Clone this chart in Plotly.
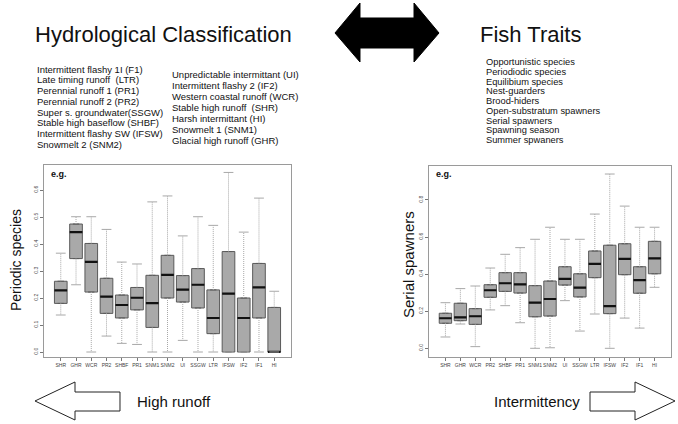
import plotly.graph_objects as go

W, H = 678, 424

categories = ["SHR", "GHR", "WCR", "PR2", "SHBF", "PR1", "SNM1", "SNM2",
              "UI", "SSGW", "LTR", "IFSW", "IF2", "IF1", "HI"]

# Left panel: Periodic species
per_low = [0.137, 0.249, 0.0, 0.059, 0.032, 0.028, 0.0, 0.0, 0.043, 0.0, 0.0, 0.0, 0.0, 0.0, 0.0]
per_q1 = [0.180, 0.346, 0.222, 0.143, 0.126, 0.156, 0.091, 0.200, 0.185, 0.163, 0.068, 0.0, 0.0, 0.126, 0.0]
per_med = [0.228, 0.444, 0.334, 0.205, 0.174, 0.201, 0.181, 0.286, 0.231, 0.249, 0.126, 0.216, 0.126, 0.239, 0.0]
per_q3 = [0.262, 0.474, 0.402, 0.273, 0.211, 0.239, 0.284, 0.358, 0.283, 0.309, 0.230, 0.372, 0.200, 0.328, 0.165]
per_high = [0.366, 0.501, 0.501, 0.454, 0.333, 0.326, 0.556, 0.578, 0.430, 0.501, 0.469, 0.665, 0.444, 0.570, 0.225]

# Right panel: Serial spawners
ser_low = [0.061, 0.131, 0.009, 0.207, 0.230, 0.138, 0.0, 0.003, 0.257, 0.093, 0.185, 0.0, 0.163, 0.109, 0.329]
ser_q1 = [0.135, 0.149, 0.129, 0.275, 0.307, 0.298, 0.170, 0.174, 0.341, 0.277, 0.381, 0.187, 0.397, 0.297, 0.402]
ser_med = [0.162, 0.167, 0.173, 0.313, 0.351, 0.345, 0.246, 0.266, 0.375, 0.327, 0.455, 0.227, 0.482, 0.368, 0.485]
ser_q3 = [0.189, 0.243, 0.214, 0.343, 0.408, 0.408, 0.338, 0.363, 0.440, 0.402, 0.525, 0.556, 0.564, 0.440, 0.577]
ser_high = [0.246, 0.322, 0.336, 0.433, 0.507, 0.543, 0.588, 0.653, 0.588, 0.588, 0.724, 0.940, 0.767, 0.653, 0.653]

left_ticks = [0.0, 0.1, 0.2, 0.3, 0.4, 0.5, 0.6]
right_ticks = [0.0, 0.2, 0.4, 0.6, 0.8]

hydro_col1 = ["Intermittent flashy 1I (F1)", "Late timing runoff  (LTR)", "Perennial runoff 1 (PR1)",
              "Perennial runoff 2 (PR2)", "Super s. groundwater(SSGW)", "Stable high baseflow (SHBF)",
              "Intermittent flashy SW (IFSW)", "Snowmelt 2 (SNM2)"]
hydro_col2 = ["Unpredictable intermittant (UI)", "Intermittent flashy 2 (IF2)", "Western coastal runoff (WCR)",
              "Stable high runoff  (SHR)", "Harsh intermittant (HI)", "Snowmelt 1 (SNM1)",
              "Glacial high runoff (GHR)"]
fish_traits = ["Opportunistic species", "Periodiodic species", "Equilibium species", "Nest-guarders",
               "Brood-hiders", "Open-substratum spawners", "Serial spawners", "Spawning season",
               "Summer spwaners"]

FONT = "Liberation Sans, Arial, sans-serif"
BOXFILL = "#a9a9a9"
BOXLINE = "#5a5a5a"
WHISK = "#a8a8a8"

fig = go.Figure()


def add_panel(xa, ya, low, q1, med, q3, high):
    # box bodies
    fig.add_trace(go.Box(x=categories, q1=q1, median=med, q3=q3, lowerfence=q1, upperfence=q3,
                         fillcolor=BOXFILL, line=dict(color=BOXLINE, width=1), width=0.83,
                         boxpoints=False, xaxis=xa, yaxis=ya, hoverinfo="skip", showlegend=False))
    # medians
    fig.add_trace(go.Box(x=categories, q1=med, median=med, q3=med, lowerfence=med, upperfence=med,
                         fillcolor="rgba(0,0,0,0)", line=dict(color="#111111", width=2.2), width=0.83,
                         boxpoints=False, xaxis=xa, yaxis=ya, hoverinfo="skip", showlegend=False))
    # whiskers
    wx, wy = [], []
    for c, lo, a, b, hi in zip(categories, low, q1, q3, high):
        wx += [c, c, None, c, c, None]
        wy += [b, hi, None, a, lo, None]
    fig.add_trace(go.Scatter(x=wx, y=wy, mode="lines", line=dict(color=WHISK, width=1, dash="1px,1px"),
                             xaxis=xa, yaxis=ya, hoverinfo="skip", showlegend=False))
    cx = categories + categories
    cy = list(high) + list(low)
    fig.add_trace(go.Scatter(x=cx, y=cy, mode="markers",
                             marker=dict(symbol="line-ew", size=7, line=dict(color=WHISK, width=1)),
                             xaxis=xa, yaxis=ya, hoverinfo="skip", showlegend=False))


add_panel("x", "y", per_low, per_q1, per_med, per_q3, per_high)
add_panel("x2", "y2", ser_low, ser_q1, ser_med, ser_q3, ser_high)


def px(x):
    return x / W


def py(y):
    return 1 - y / H


axis_common = dict(showline=True, mirror=True, linecolor="#9a9a9a", linewidth=1, showgrid=False,
                   zeroline=False, ticks="outside", ticklen=3, tickcolor="#777", tickwidth=1,
                   tickfont=dict(family=FONT, size=5, color="#444"))

fig.update_layout(
    width=W, height=H, margin=dict(l=0, r=0, t=0, b=0),
    paper_bgcolor="white", plot_bgcolor="white",
    xaxis=dict(domain=[px(44), px(291)], anchor="y", type="category", categoryorder="array",
               categoryarray=categories, range=[-1.1, 15.1], tickangle=0, **axis_common),
    yaxis=dict(domain=[py(357), py(165)], anchor="x", range=[-0.0185, 0.6926], tickvals=left_ticks,
               ticktext=[f"{v:.1f}" for v in left_ticks], tickangle=-90, **axis_common),
    xaxis2=dict(domain=[px(429), px(671)], anchor="y2", type="category", categoryorder="array",
                categoryarray=categories, range=[-1.1, 15.1], tickangle=0, **axis_common),
    yaxis2=dict(domain=[py(356.7), py(166)], anchor="x2", range=[-0.0453, 0.9833], tickvals=right_ticks,
                ticktext=[f"{v:.1f}" for v in right_ticks], tickangle=-90, **axis_common),
)

ann = []


def text(x, y, s, size, anchor="left", bold=False, angle=0, color="#111"):
    ann.append(dict(x=px(x), y=py(y), xref="paper", yref="paper", text=(f"<b>{s}</b>" if bold else s),
                    showarrow=False, xanchor=anchor, yanchor="middle", textangle=angle,
                    font=dict(family=FONT, size=size, color=color)))


text(33, 34, "Hydrological Classification", 22)
text(478, 34, "Fish Traits", 22)
for i, s in enumerate(hydro_col1):
    text(35, 69 + i * 10.76, s, 9.5)
for i, s in enumerate(hydro_col2):
    text(170, 75 + i * 10.9, s, 9.5)
for i, s in enumerate(fish_traits):
    text(484, 62.3 + i * 9.7, s, 9.3)

text(49, 174, "e.g.", 9, bold=True)
text(434, 174, "e.g.", 9, bold=True)
text(16, 260, "Periodic species", 14, anchor="center", angle=-90)
text(408, 265, "Serial spawners", 15, anchor="center", angle=-90)
text(135, 401, "High runoff", 15)
text(582, 401, "Intermittency", 15, anchor="right")

fig.update_layout(annotations=ann)


def path(pts):
    return "M " + " L ".join(f"{px(x):.5f},{py(y):.5f}" for x, y in pts) + " Z"


shapes = [
    dict(type="path", xref="paper", yref="paper",
         path=path([(335, 33), (360, 3), (360, 18), (414, 18), (414, 3), (439, 33),
                    (414, 62), (414, 48), (360, 48), (360, 62)]),
         fillcolor="black", line=dict(color="black", width=1)),
    dict(type="path", xref="paper", yref="paper",
         path=path([(35, 401), (75, 382), (75, 392), (120, 392), (120, 411), (75, 411), (75, 420)]),
         fillcolor="white", line=dict(color="#222", width=1)),
    dict(type="path", xref="paper", yref="paper",
         path=path([(590, 392), (635, 392), (635, 382), (675, 401), (635, 420), (635, 411), (590, 411)]),
         fillcolor="white", line=dict(color="#222", width=1)),
]
fig.update_layout(shapes=shapes)

fig.write_html("out.html")
